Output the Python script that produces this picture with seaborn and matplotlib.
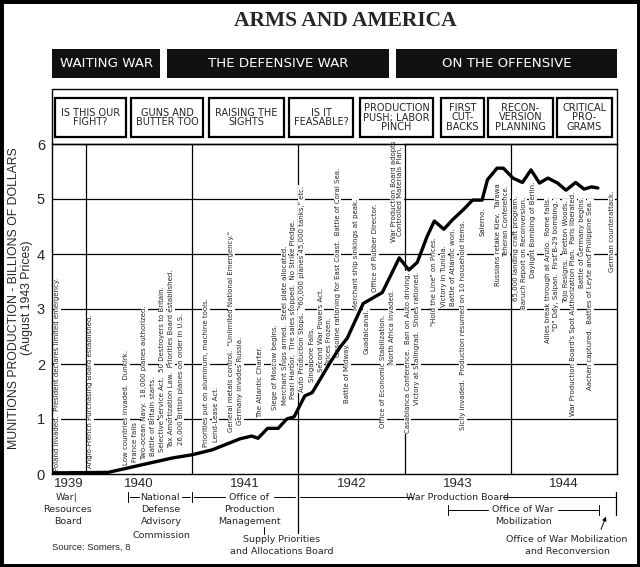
import pandas as pd
import matplotlib
matplotlib.use("Agg")
import matplotlib.pyplot as plt
import seaborn as sns
from matplotlib.patches import Rectangle, FancyArrowPatch
from matplotlib.lines import Line2D
from matplotlib import font_manager

# munitions production, billions of dollars (August 1943 prices)
prod_year = [1939.69, 1940.21, 1940.81, 1941.00, 1941.19, 1941.45, 1941.56, 1941.62,
             1941.71, 1941.81, 1941.89, 1941.96, 1942.06, 1942.13, 1942.30, 1942.39,
             1942.46, 1942.61, 1942.79, 1942.95, 1943.04, 1943.12, 1943.21, 1943.28,
             1943.37, 1943.45, 1943.55, 1943.64, 1943.73, 1943.78, 1943.87, 1943.93,
             1944.02, 1944.11, 1944.19, 1944.27, 1944.35, 1944.44, 1944.52, 1944.61,
             1944.69, 1944.76, 1944.82]
prod_value = [0.02, 0.03, 0.29, 0.35, 0.44, 0.64, 0.69, 0.65,
              0.83, 0.83, 1.00, 1.04, 1.42, 1.48, 2.03, 2.30,
              2.47, 3.10, 3.30, 3.93, 3.71, 3.85, 4.31, 4.60,
              4.45, 4.62, 4.80, 4.98, 4.98, 5.35, 5.56, 5.56,
              5.38, 5.30, 5.53, 5.29, 5.38, 5.29, 5.16, 5.30,
              5.18, 5.22, 5.20]

years = [1939, 1940, 1941, 1942, 1943, 1944]

# events: date, level on the chart, side of the curve, text
event_date = [1939.73, 1940.04, 1940.38, 1940.46, 1940.55, 1940.63, 1940.72, 1940.80,
              1940.89, 1941.13, 1941.22, 1941.37, 1941.45, 1941.64, 1941.78, 1941.87,
              1941.95, 1942.03, 1942.13, 1942.21, 1942.29, 1942.37, 1942.46, 1942.54,
              1942.64, 1942.72, 1942.80, 1942.88, 1942.93, 1943.03, 1943.12, 1943.28,
              1943.37, 1943.46, 1943.55, 1943.73, 1943.88, 1943.96, 1944.05, 1944.12,
              1944.21, 1944.35, 1944.43, 1944.52, 1944.59, 1944.67, 1944.75, 1944.95]
event_level = [0.05, 0.10, 0.16, 0.22, 0.26, 0.33, 0.40, 0.47,
               0.53, 0.49, 0.58, 0.76, 0.89, 1.02, 1.16, 1.25,
               1.36, 1.49, 1.67, 1.85, 1.98, 2.13, 2.38, 2.98,
               3.02, 3.31, 2.89, 3.35, 4.22, 3.67, 3.67, 4.31,
               4.16, 4.47, 4.62, 4.85, 5.29, 5.25, 5.07, 5.04,
               5.31, 5.04, 4.98, 4.98, 5.13, 5.04, 4.98, 5.16]
event_side = ["up"] * 22 + ["down", "up", "down", "up", "down", "down", "up"] + ["down"] * 19
event_text = [
    "Poland invaded.  President declares limited emergency.",
    "Anglo-French Purchasing Board established.",
    "Low countries invaded.  Dunkirk.",
    "France falls",
    "Two-ocean Navy.  18,000 planes authorized.",
    "Battle of Britain starts.",
    "Selective Service Act.  50 Destroyers to Britain.",
    "Tax Amortization Law.  Priorities Board established.",
    "26,000 British planes on order in U.S.",
    "Priorities put on aluminum, machine tools.",
    "Lend-Lease Act.",
    "General metals control.  \"Unlimited National Emergency.\"",
    "Germany invades Russia.",
    "The Atlantic Charter.",
    "Siege of Moscow begins.",
    "Merchant Ships armed.  Steel plate allocated.",
    "Pearl Harbor.  Tire sales stopped.  No Strike Pledge.",
    "Auto Production Stops.  \"60,000 planes 45,000 tanks,\" etc.",
    "Singapore Falls.",
    "Second War Powers Act.",
    "Prices Frozen.",
    "Gasoline rationing for East Coast.  Battle of Coral Sea.",
    "Battle of Midway.",
    "Merchant ship sinkings at peak.",
    "Guadalcanal.",
    "Office of Rubber Director.",
    "Office of Economic Stabilization.",
    "North Africa invaded.",
    "War Production Board adopts\nControlled Materials Plan.",
    "Casablanca Conference.  Ban on Auto driving.",
    "Victory at Stalingrad.  Shoes rationed.",
    "\"Hold the Line\" on Prices.",
    "Victory in Tunisia.",
    "Battle of Atlantic won.",
    "Sicily invaded.  Production resumed on 10 household items.",
    "Salerno.",
    "Russians retake Kiev.  Tarawa",
    "Teheran Conference.",
    "65,000 landing craft program.",
    "Baruch Report on Reconversion.",
    "Daylight Bombing of Berlin.",
    "Allies break through at Anzio.  Rome falls.",
    "\"D\" Day, Saipan.  First B-29 bombing.",
    "Tojo Resigns.  Bretton Woods.",
    "War Production Board's Spot Authorization Plan.  Paris liberated.",
    "Battle of Germany begins.",
    "Aachen captured.  Battles of Leyte and Philippine Sea.",
    "German counterattack.",
]

eras = ["WAITING WAR", "THE DEFENSIVE WAR", "ON THE OFFENSIVE"]
phases = ["IS THIS OUR\nFIGHT?", "GUNS AND\nBUTTER TOO", "RAISING THE\nSIGHTS", "IS IT\nFEASABLE?",
          "PRODUCTION\nPUSH; LABOR\nPINCH", "FIRST\nCUT-\nBACKS", "RECON-\nVERSION\nPLANNING",
          "CRITICAL\nPRO-\nGRAMS"]

# layout (pixels of the 640x567 picture)
era_px = [(52, 160), (167, 389), (396, 617)]
phase_px = [(55, 126), (131, 203), (209, 284), (289, 353), (360, 433), (441, 484), (488, 553), (557, 612)]

W, H = 640, 567


def fx(px):
    return px / W


def fy(py):
    return 1 - py / H


sns.set_style("white")
names = {f.name for f in font_manager.fontManager.ttflist}
if "Liberation Sans Narrow" in names:
    NARROW, k = "Liberation Sans Narrow", 1.0
else:
    NARROW, k = "DejaVu Sans", 0.8
plt.rcParams["font.family"] = ["Liberation Sans", "DejaVu Sans"]

fig = plt.figure(figsize=(6.4, 5.67), dpi=100)
ax = fig.add_axes([fx(52), fy(474), 565 / W, 330 / H])

df = pd.DataFrame({"year": prod_year, "value": prod_value})
sns.lineplot(data=df, x="year", y="value", ax=ax, color="black", linewidth=2.4,
             estimator=None, sort=False, zorder=5)

ax.set_xlim(1939.68, 1945.0)
ax.set_ylim(0, 6)
ax.set_xlabel("")
ax.set_ylabel("")
for yv in range(1, 6):
    ax.axhline(yv, color="black", lw=0.9, zorder=1)
for yr in years[1:]:
    ax.axvline(yr, color="black", lw=0.9, zorder=1)
for s in ax.spines.values():
    s.set_visible(True)
    s.set_color("black")
    s.set_linewidth(1.0)

ax.set_yticks(range(7))
ax.tick_params(axis="y", length=0, pad=5, labelsize=10.5)
ax.set_xticks([1939.84] + [y + 0.5 for y in years[1:]])
ax.set_xticklabels([str(y) for y in years])
ax.tick_params(axis="x", which="major", direction="in", length=8, width=0.8, labelsize=9.5, pad=3)
ax.xaxis.get_major_ticks()[0].tick1line.set_markersize(0)
months = [y + m / 12 for y in [1939] + years[1:] for m in range(12)
          if m not in (0, 6) and 1939.68 < y + m / 12 < 1945]
ax.set_xticks(months, minor=True)
ax.tick_params(axis="x", which="minor", direction="in", length=4.5, width=0.8)

for x, y, side, t in zip(event_date, event_level, event_side, event_text):
    ax.text(x, y, t, rotation=90, ha="center", va="bottom" if side == "up" else "top",
            fontsize=6.3 * k, family=NARROW, linespacing=1.0, multialignment="center",
            bbox=dict(facecolor="white", edgecolor="none", pad=0.5), zorder=3)

fig.text(fx(14), fy(298), "MUNITIONS PRODUCTION - BILLIONS OF DOLLARS", rotation=90,
         ha="center", va="center", fontsize=8.8)
fig.text(fx(27), fy(298), "(August 1943 Prices)", rotation=90, ha="center", va="center", fontsize=8.8)

# header
fig.text(fx(345), fy(21), "ARMS AND AMERICA", ha="center", va="center", fontsize=15.5,
         weight="bold", family=["Liberation Serif", "DejaVu Serif"])
for (x0, x1), label in zip(era_px, eras):
    fig.add_artist(Rectangle((fx(x0), fy(78)), (x1 - x0) / W, 29 / H, transform=fig.transFigure,
                             facecolor="#111111", edgecolor="none"))
    fig.text(fx((x0 + x1) / 2), fy(63.5), label, color="white", ha="center", va="center",
             fontsize=12 * k, family=NARROW)
fig.add_artist(Rectangle((fx(52), fy(144)), 565 / W, 55 / H, transform=fig.transFigure,
                         fill=False, edgecolor="black", lw=1.0))
for (x0, x1), label in zip(phase_px, phases):
    fig.add_artist(Rectangle((fx(x0), fy(137)), (x1 - x0) / W, 39 / H, transform=fig.transFigure,
                             fill=False, edgecolor="black", lw=1.6))
    fig.text(fx((x0 + x1) / 2), fy(117.5), label, ha="center", va="center", fontsize=8.8 * k,
             family=NARROW, linespacing=0.95)


# agencies under the axis
def seg(x0, y0, x1, y1, lw=0.7):
    fig.add_artist(Line2D([fx(x0), fx(x1)], [fy(y0), fy(y1)], color="black", lw=lw))


def label(x, y, t, ha="center"):
    fig.text(fx(x), fy(y), t, ha=ha, va="center", fontsize=8.5 * k, family=NARROW)


label(67, 497, "War|")
label(68, 510, "Resources")
label(68, 522, "Board")

seg(128, 492, 128, 502)
seg(130, 497, 139, 497)
label(160, 497, "National")
seg(182, 497, 190, 497)
seg(192, 492, 192, 502)
label(161, 510, "Defense")
label(161, 522, "Advisory")
label(161, 535, "Commission")

seg(194, 497, 225, 497)
label(249, 497, "Office of")
seg(274, 497, 295, 497)
label(249, 510, "Production")
label(249, 522, "Management")
seg(264, 527, 264, 534)
label(282, 540, "Supply Priorities")
label(282, 552, "and Allocations Board")
seg(298, 474, 298, 533, lw=0.9)

seg(300, 497, 412, 497)
label(457, 497, "War Production Board")
seg(503, 497, 616, 497)
seg(616, 492, 616, 515, lw=0.9)

seg(448, 505, 448, 515)
seg(449, 510, 488, 510)
label(523, 510, "Office of War")
seg(558, 510, 598, 510)
seg(599, 505, 599, 515)
label(523, 522, "Mobilization")
fig.add_artist(FancyArrowPatch((fx(600), fy(532)), (fx(607), fy(514)), transform=fig.transFigure,
                               arrowstyle="-|>", mutation_scale=6, color="black", lw=0.7))
label(567, 539, "Office of War Mobilization")
label(567, 551, "and Reconversion")

fig.text(fx(52), fy(547), "Source: Somers, 8", ha="left", va="center", fontsize=8.5 * k,
         family=["Liberation Sans", "DejaVu Sans"])

fig.add_artist(Rectangle((0, 0), 1, 1, transform=fig.transFigure, fill=False,
                         edgecolor="black", lw=5))

fig.savefig("out.png", dpi=100)
